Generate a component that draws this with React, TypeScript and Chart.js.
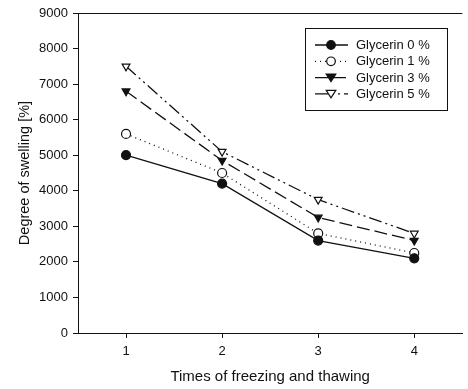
import React, { useEffect, useRef } from "react";
import { Chart, registerables } from "chart.js";

Chart.register(...registerables);

const cycles = [1, 2, 3, 4];
const glycerin0 = [5000, 4200, 2600, 2100];
const glycerin1 = [5600, 4500, 2800, 2250];
const glycerin3 = [6800, 4850, 3250, 2600];
const glycerin5 = [7500, 5100, 3750, 2800];
const seriesNames = ["Glycerin 0 %", "Glycerin 1 %", "Glycerin 3 %", "Glycerin 5 %"];
const yTicks = [0, 1000, 2000, 3000, 4000, 5000, 6000, 7000, 8000, 9000];

const FONT = "'Liberation Sans', Arial, sans-serif";
const INK = "#111";

const styles = [
  { dash: [] as number[], pointStyle: "circle", rotation: 0, fill: INK },
  { dash: [1, 4], pointStyle: "circle", rotation: 0, fill: "#fff" },
  { dash: [13, 5], pointStyle: "triangle", rotation: 180, fill: INK },
  { dash: [13, 4, 2, 4, 2, 4], pointStyle: "triangle", rotation: 180, fill: "#fff" },
];

function drawMarker(ctx: CanvasRenderingContext2D, kind: string, fill: string, x: number, y: number) {
  ctx.save();
  ctx.setLineDash([]);
  ctx.fillStyle = fill;
  ctx.strokeStyle = INK;
  ctx.lineWidth = 1.2;
  ctx.beginPath();
  if (kind === "circle") {
    ctx.arc(x, y, 4.3, 0, Math.PI * 2);
  } else {
    ctx.moveTo(x - 4.8, y - 3.5);
    ctx.lineTo(x + 4.8, y - 3.5);
    ctx.lineTo(x, y + 4);
    ctx.closePath();
  }
  ctx.fill();
  ctx.stroke();
  ctx.restore();
}

const framePlugin = {
  id: "frameAndLegend",
  afterDraw(chart: any) {
    const { ctx, chartArea } = chart;
    ctx.save();
    ctx.strokeStyle = INK;
    ctx.lineWidth = 1;
    ctx.beginPath();
    ctx.moveTo(chartArea.left, chartArea.top + 0.5);
    ctx.lineTo(chartArea.right, chartArea.top + 0.5);
    ctx.stroke();

    const bx = 305.5, by = 28.5, bw = 142, bh = 82;
    ctx.fillStyle = "#fff";
    ctx.fillRect(bx, by, bw, bh);
    ctx.strokeRect(bx, by, bw, bh);
    ctx.font = `13px ${FONT}`;
    ctx.textBaseline = "middle";
    ctx.textAlign = "left";
    for (let i = 0; i < seriesNames.length; i++) {
      const y = 45 + i * 16.3;
      const s = styles[i];
      ctx.setLineDash(s.dash);
      ctx.lineWidth = 1.3;
      ctx.strokeStyle = INK;
      ctx.beginPath();
      ctx.moveTo(315, y);
      ctx.lineTo(348, y);
      ctx.stroke();
      ctx.setLineDash([]);
      drawMarker(ctx, s.pointStyle, s.fill, 331, y);
      ctx.fillStyle = INK;
      ctx.fillText(seriesNames[i], 356, y + 0.5);
    }
    ctx.restore();
  },
};

export default function App() {
  const ref = useRef<HTMLCanvasElement>(null);
  useEffect(() => {
    document.body.style.margin = "0";
    const allData = [glycerin0, glycerin1, glycerin3, glycerin5];
    const chart = new Chart(ref.current!, {
      type: "line",
      data: {
        datasets: allData.map((vals, i) => ({
          label: seriesNames[i],
          data: vals.map((v, j) => ({ x: cycles[j], y: v })),
          borderColor: INK,
          borderWidth: 1.3,
          borderDash: styles[i].dash,
          backgroundColor: styles[i].fill,
          pointBackgroundColor: styles[i].fill,
          pointBorderColor: INK,
          pointBorderWidth: 1.2,
          pointRadius: 4.5,
          pointStyle: styles[i].pointStyle as any,
          pointRotation: styles[i].rotation,
          tension: 0,
          fill: false,
        })),
      },
      options: {
        animation: false,
        responsive: false,
        maintainAspectRatio: false,
        layout: { padding: { top: 13, right: 0, left: 0, bottom: 0 } },
        plugins: { legend: { display: false }, tooltip: { enabled: false } },
        scales: {
          x: {
            type: "linear",
            min: 0.5,
            max: 4.5,
            afterBuildTicks: (axis: any) => {
              axis.ticks = cycles.map((v) => ({ value: v }));
            },
            afterFit: (axis: any) => {
              axis.height = 56;
            },
            grid: { display: true, drawOnChartArea: false, drawTicks: true, tickLength: 5, color: INK },
            border: { display: true, color: INK, width: 1 },
            ticks: {
              color: INK,
              font: { family: FONT, size: 13 },
              padding: 6,
              maxRotation: 0,
              callback: (v: any) => String(v),
            },
            title: {
              display: true,
              text: "Times of freezing and thawing",
              color: INK,
              font: { family: FONT, size: 15 },
              padding: { top: 4, bottom: 3 },
            },
          },
          y: {
            type: "linear",
            min: 0,
            max: 9000,
            afterBuildTicks: (axis: any) => {
              axis.ticks = yTicks.map((v) => ({ value: v }));
            },
            afterFit: (axis: any) => {
              axis.width = 78;
            },
            grid: { display: true, drawOnChartArea: false, drawTicks: true, tickLength: 5, color: INK },
            border: { display: true, color: INK, width: 1 },
            ticks: {
              color: INK,
              font: { family: FONT, size: 13 },
              padding: 5,
              callback: (v: any) => String(v),
            },
            title: {
              display: true,
              text: "Degree of swelling [%]",
              color: INK,
              font: { family: FONT, size: 14.5 },
              padding: { top: 16, bottom: 0 },
            },
          },
        },
      },
      plugins: [framePlugin],
    });
    return () => chart.destroy();
  }, []);
  return (
    <div style={{ position: "fixed", left: 0, top: 0, width: 468, height: 389 }}>
      <canvas ref={ref} width={468} height={389} style={{ width: 468, height: 389 }} />
    </div>
  );
}
